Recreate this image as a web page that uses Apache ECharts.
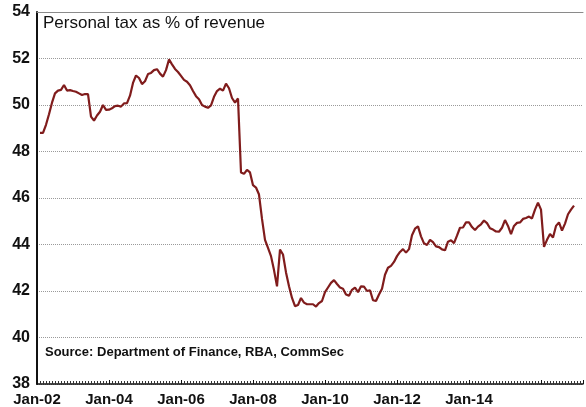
<!DOCTYPE html>
<html>
<head>
<meta charset="utf-8">
<script src="https://cdn.jsdelivr.net/npm/echarts@6/dist/echarts.min.js"></script>
<style>
html,body{margin:0;padding:0;background:#fff;}
#c{width:586px;height:407px;}
</style>
</head>
<body>
<div id="c"></div>
<script>
// Month index (0 = Jan-02) of the first value
var startMonth = 1;
// Personal tax as % of revenue, monthly from Feb-02
var personalTax = [
 48.8,48.8,49.15,49.6,50.1,50.5,50.62,50.65,50.86,50.62,50.64,50.6,
 50.57,50.5,50.43,50.47,50.47,49.5,49.33,49.55,49.71,50.0,49.79,49.8,
 49.86,49.95,49.97,49.93,50.07,50.08,50.4,50.95,51.27,51.16,50.9,51.02,
 51.33,51.38,51.5,51.54,51.35,51.22,51.5,51.96,51.75,51.55,51.42,51.25,
 51.08,51.0,50.85,50.6,50.38,50.25,50.0,49.93,49.88,49.98,50.35,50.6,
 50.7,50.62,50.92,50.72,50.3,50.1,50.28,47.1,47.04,47.21,47.1,46.55,
 46.45,46.15,45.1,44.2,43.85,43.5,42.9,42.2,43.78,43.57,42.8,42.2,
 41.7,41.35,41.4,41.7,41.5,41.43,41.43,41.43,41.33,41.48,41.57,41.95,
 42.15,42.35,42.47,42.3,42.15,42.1,41.85,41.8,42.05,42.15,41.95,42.2,
 42.19,42.0,42.03,41.6,41.57,41.85,42.1,42.7,43.0,43.08,43.25,43.5,
 43.68,43.8,43.65,43.8,44.4,44.68,44.78,44.35,44.05,43.98,44.2,44.1,
 43.92,43.89,43.79,43.75,44.12,44.18,44.06,44.38,44.72,44.73,44.95,44.95,
 44.75,44.62,44.77,44.87,45.03,44.92,44.7,44.64,44.56,44.55,44.72,45.05,
 44.8,44.45,44.8,44.93,44.95,45.1,45.14,45.2,45.12,45.5,45.8,45.5,
 43.9,44.2,44.45,44.3,44.8,44.95,44.6,44.9,45.3,45.5,45.67
];
// x-axis tick labels every 24 months from Jan-02
var xTickLabels = ['Jan-02','Jan-04','Jan-06','Jan-08','Jan-10','Jan-12','Jan-14'];
var chartTitle = 'Personal tax as % of revenue';
var sourceText = 'Source: Department of Finance, RBA, CommSec';

var seriesData = personalTax.map(function(v, i){ return [startMonth + i, v]; });

var chart = echarts.init(document.getElementById('c'), null, {renderer:'canvas'});
chart.setOption({
  animation:false,
  backgroundColor:'#ffffff',
  grid:{left:37, top:12, width:556, height:372, show:false},
  xAxis:[{
    type:'value', min:0, max:182, interval:24,
    axisLine:{show:true, onZero:false, lineStyle:{color:'#111', width:1.5}},
    axisTick:{show:true, inside:true, length:4, lineStyle:{color:'#111'}},
    minorTick:{show:true, splitNumber:24, length:3, lineStyle:{color:'#333'}},
    splitLine:{show:false},
    axisLabel:{
      margin:8, color:'#111', fontFamily:'Liberation Sans, Arial, sans-serif', fontWeight:'bold', fontSize:15,
      formatter:function(v){ var i = Math.round(v/24); return (v % 24 === 0 && xTickLabels[i]) ? xTickLabels[i] : ''; }
    }
  },{
    type:'value', position:'top', min:0, max:182,
    axisLine:{show:true, onZero:false, lineStyle:{color:'#8a8a8a', width:1}},
    axisTick:{show:false}, axisLabel:{show:false}, splitLine:{show:false}
  }],
  yAxis:{
    type:'value', min:38, max:54, interval:2,
    axisLine:{show:true, lineStyle:{color:'#111', width:2}},
    axisTick:{show:false},
    splitLine:{show:true, lineStyle:{color:'#9a9a9a', type:'dotted', width:1}},
    axisLabel:{margin:7, color:'#111', fontFamily:'Liberation Sans, Arial, sans-serif', fontWeight:'bold', fontSize:16}
  },
  graphic:[
    {type:'text', left:43, top:15, style:{text:chartTitle, fill:'#111', font:'17px "Liberation Sans", Arial, sans-serif'}},
    {type:'text', left:45, top:346, style:{text:sourceText, fill:'#111', font:'bold 13px "Liberation Sans", Arial, sans-serif'}}
  ],
  series:[{
    type:'line', data:seriesData, showSymbol:false, symbol:'none',
    lineStyle:{color:'#801c1c', width:2.2},
    clip:true
  }]
});
</script>
</body>
</html>
